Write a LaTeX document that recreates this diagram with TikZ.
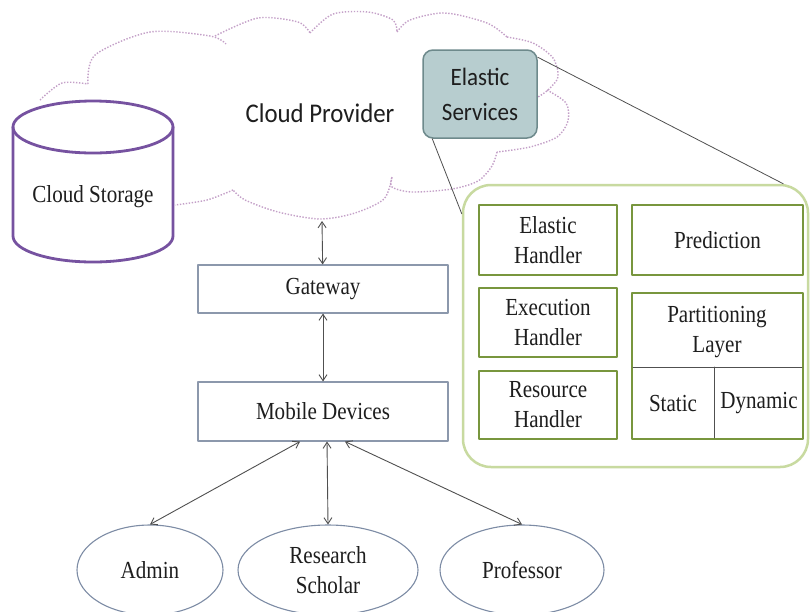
\documentclass[tikz,border=0pt]{standalone}
\usepackage{fontspec}
\setmainfont[FakeStretch=0.86]{Liberation Serif}
\newfontfamily\calibri[FakeStretch=0.92]{Carlito}
\usetikzlibrary{shapes.geometric, arrows.meta}
\definecolor{cloudpink}{RGB}{196,160,200}
\definecolor{storagepurple}{RGB}{118,82,160}
\definecolor{esfill}{RGB}{183,205,207}
\definecolor{esborder}{RGB}{110,138,140}
\definecolor{panelgreen}{RGB}{200,218,160}
\definecolor{handlergreen}{RGB}{120,150,62}
\definecolor{boxgray}{RGB}{140,152,172}
\definecolor{ellgray}{RGB}{125,140,165}
\definecolor{arrowgray}{RGB}{80,80,80}
\definecolor{inkgray}{RGB}{30,30,30}
\begin{document}
\begin{tikzpicture}[x=1pt, y=-1pt, line join=round, line cap=round,
  >={Straight Barb[length=6pt, width=8pt]},
  txt/.style={font=\fontsize{24.5}{30}\selectfont, text=inkgray, align=center},
  graybox/.style={draw=boxgray, line width=1.1pt, fill=white, inner sep=0pt},
  greenbox/.style={draw=handlergreen, line width=2.6pt, fill=white, inner sep=0pt},
  user/.style={ellipse, draw=ellgray, line width=1.1pt, fill=white, inner sep=0pt},
  cloudline/.style={draw=cloudpink, dash pattern=on 1.4pt off 1.6pt, line width=1.4pt, line cap=butt},
  link/.style={<->, draw=arrowgray, line width=0.9pt},
  leader/.style={draw=arrowgray, line width=0.8pt}]
\useasboundingbox (0,0) rectangle (810,611);
\fill[white] (0,0) rectangle (810,611);
% Cloud outline (one puff per plot)
\draw[cloudline] plot[smooth] coordinates {(40,100) (62,83) (88,84)};
\draw[cloudline] plot[smooth] coordinates {(88,84) (95,55) (150,32) (210,36) (226,44)};
\draw[cloudline] plot[smooth] coordinates {(215,36) (258,18) (298,22) (310,33)};
\draw[cloudline] plot[smooth] coordinates {(310,33) (333,14) (368,12) (393,20) (397,32)};
\draw[cloudline] plot[smooth] coordinates {(397,32) (410,20) (445,13) (487,23) (507,37)};
\draw[cloudline] plot[smooth] coordinates {(507,37) (533,43) (553,58) (558,77) (548,90) (538,97)};
\draw[cloudline] plot[smooth] coordinates {(547,90) (566,103) (568,121) (557,137) (530,147) (497,152)};
\draw[cloudline] plot[smooth] coordinates {(497,152) (492,166) (478,181) (452,189) (412,192) (392,187) (392,177)};
\draw[cloudline] plot[smooth] coordinates {(392,177) (384,199) (355,213) (320,219) (278,212) (245,200) (233,190)};
\draw[cloudline] plot[smooth] coordinates {(233,190) (207,200) (175,205)};
\node[font=\calibri\fontsize{27}{30}\selectfont, text=inkgray] (provider) at (320,113) {Cloud Provider};
\coordinate (cloudbot) at (322,221);
% Cylinder for the storage
\def\cx{93}
\def\rx{80}
\def\ry{26}
\def\ctop{127}
\def\cbot{236}
\fill[white] (\cx-\rx,\ctop) -- (\cx-\rx,\cbot)
  arc[start angle=180, end angle=0, x radius=\rx, y radius=\ry] -- (\cx+\rx,\ctop) -- cycle;
\draw[storagepurple, line width=2.8pt] (\cx-\rx,\ctop) -- (\cx-\rx,\cbot)
  arc[start angle=180, end angle=0, x radius=\rx, y radius=\ry] -- (\cx+\rx,\ctop);
\draw[storagepurple, line width=2.8pt] (\cx,\ctop) ellipse [x radius=\rx, y radius=\ry];
\node[txt] (storage) at (\cx,197) {Cloud Storage};
% Elastic services and its zoomed panel
\node[draw=esborder, fill=esfill, rounded corners=10pt, line width=1.5pt,
  minimum width=114pt, minimum height=88pt, align=center, text=inkgray,
  font=\calibri\fontsize{25}{35}\selectfont] (es) at (480,94) {Elastic\\Services};
\node[draw=panelgreen, line width=2.5pt, rounded corners=28pt, fill=white,
  minimum width=345pt, minimum height=282pt] (panel) at (635.5,326) {};
\draw[leader] ([yshift=-8pt]es.north east) -- ([xshift=-26pt]panel.north east);
\draw[leader] ([xshift=10pt]es.south west) -- ([yshift=-30pt]panel.north west);
\node[greenbox, txt, minimum width=138pt, minimum height=70pt] (eh) at (548,240) {Elastic\\Handler};
\node[greenbox, txt, minimum width=171pt, minimum height=70pt] (pred) at (717.5,240) {Prediction};
\node[greenbox, txt, minimum width=138pt, minimum height=69pt] (exh) at (548,322.5) {Execution\\Handler};
\node[greenbox, txt, minimum width=138pt, minimum height=68pt] (rh) at (548,405) {Resource\\Handler};
\node[greenbox, minimum width=171pt, minimum height=146pt] (part) at (717.5,366) {};
\draw[arrowgray, line width=0.8pt] (633,367) -- (802,367);
\draw[arrowgray, line width=0.8pt] (714,367) -- (714,438);
\node[txt] (layer) at (717,332) {Partitioning\\Layer};
\node[txt] (static) at (673,403) {Static};
\node[txt] (dynamic) at (759,403) {Dynamic};
% Gateway and devices
\node[graybox, txt, minimum width=250pt, minimum height=48pt] (gate) at (323,289) {Gateway};
\node[graybox, txt, minimum width=250pt, minimum height=59pt] (mobile) at (323,411.5) {Mobile Devices};
% Users
\node[user, txt, minimum width=146pt, minimum height=90pt] (admin) at (150,570) {Admin};
\node[user, txt, minimum width=180pt, minimum height=90pt] (scholar) at (328,570) {Research\\Scholar};
\node[user, txt, minimum width=164pt, minimum height=90pt] (prof) at (522,570) {Professor};
% Links
\draw[link] (cloudbot) -- (gate);
\draw[link] (gate) -- (mobile);
\draw[link] ([xshift=-23pt]mobile.south) -- (admin.north);
\draw[link] ([xshift=4pt]mobile.south) -- (scholar.north);
\draw[link] ([xshift=22pt]mobile.south) -- (prof.north);
\end{tikzpicture}
\end{document}
